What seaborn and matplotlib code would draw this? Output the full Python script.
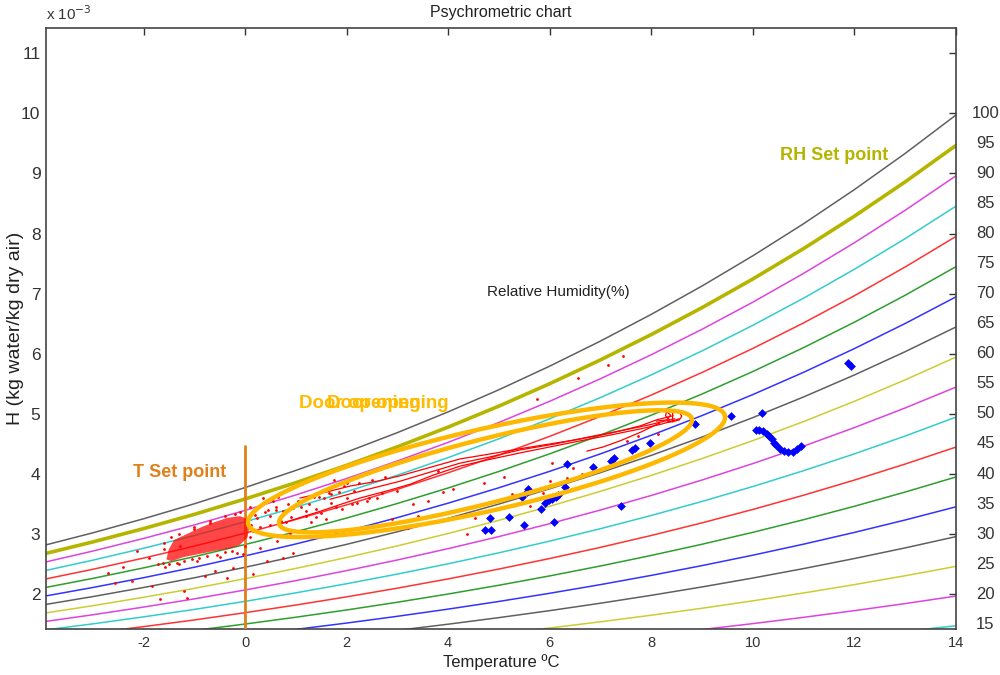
import numpy as np
import pandas as pd
import matplotlib
matplotlib.use('Agg')
import matplotlib.pyplot as plt
import seaborn as sns

# Saturation vapour pressure over water (kPa) at -4..14 degC
temps = [-4, -3, -2, -1, 0, 1, 2, 3, 4, 5, 6, 7, 8, 9, 10, 11, 12, 13, 14]
p_sat = [0.4547, 0.4898, 0.5275, 0.5677, 0.6112, 0.6571, 0.7060, 0.7581, 0.8135,
         0.8725, 0.9353, 1.0020, 1.0729, 1.1481, 1.2280, 1.3128, 1.4028, 1.4981, 1.5990]
P_ATM = 101.325
rh_levels = [15, 20, 25, 30, 35, 40, 45, 50, 55, 60, 65, 70, 75, 80, 85, 90, 95, 100]
rh_setpoint = 95
t_setpoint = 0

# MATLAB-like colour cycle, starting at 15 %
cycle = ['#33cccc', '#dd44dd', '#cccc33', '#606060', '#3333ff', '#2e9e2e', '#ff3333']

# Measured points (blue)
blue_x = [9.56, 8.86, 7.97, 7.68, 7.62, 7.26, 7.2, 6.86, 6.33, 6.3, 5.58, 5.55, 5.9, 5.98,
          6.05, 6.12, 6.17, 5.83, 5.2, 4.83, 6.09, 5.49, 4.72, 4.84, 7.41, 5.45,
          10.17, 10.06, 10.13, 10.2, 10.27, 10.32, 10.37, 10.41, 10.46, 10.53, 10.61,
          10.69, 10.79, 10.87, 10.94, 11.87, 11.93]
blue_y = [4.97, 4.83, 4.52, 4.43, 4.4, 4.26, 4.22, 4.12, 4.16, 3.79, 3.75, 3.7, 3.52, 3.56,
          3.59, 3.62, 3.65, 3.41, 3.29, 3.26, 3.2, 3.15, 3.07, 3.07, 3.46, 3.62,
          5.02, 4.73, 4.73, 4.71, 4.67, 4.63, 4.58, 4.52, 4.48, 4.42, 4.38,
          4.36, 4.36, 4.41, 4.46, 5.85, 5.79]

# Dense cluster of red samples around the T set point (outline)
cluster_x = [-1.55, -1.5, -1.4, -1.1, -0.85, -0.6, -0.35, -0.1, 0.05, 0.08, 0.05, -0.1,
             -0.3, -0.6, -0.9, -1.2, -1.45]
cluster_y = [2.58, 2.75, 2.9, 3.02, 3.12, 3.2, 3.27, 3.3, 3.25, 3.1, 2.95, 2.82,
             2.76, 2.72, 2.67, 2.62, 2.55]

# Scattered red samples
red_x = [-2.13, -2.56, -1.67, -1.14, -2.22, -1.83, -0.79, -0.24, 0.16, 0.43, 0.75, 0.94,
         -1.71, -0.35, -1.28, -0.04, 0.3, 0.63, 0.89, 0.16, 0.35, 0.55, 0.24, 0.49, 0.75,
         0.94, -2.4, -1.9, -2.7, -1.6, -1.58, -1.3, -0.95, -0.5, -0.15, 0.1, 0.12, -1.45,
         -1.0, -0.7, -0.2, 1.1, 1.25, 1.4, 1.55, 1.7, 1.85, 2.0, 2.15, 1.2, 1.5, 1.8, 2.1,
         1.05, 1.35, 1.65, 1.95, 2.25, 2.5, 2.75, 1.3, 1.6, 0.8, 0.6, 0.45, 2.4, 2.0, 1.75,
         7.44, 7.15, 6.56, 5.75, 6.04, 6.46, 6.63, 6.34, 6.0, 5.87, 5.61, 5.26, 5.41, 4.96,
         4.53, 4.37, 7.74, 8.13, 7.52, 3.3, 3.6, 3.9, 4.1, 2.9, 3.4, 5.1, 4.7, 3.2, 2.6,
         -0.6, -1.2, 1.0, 2.6, 3.8,
         -1.62, -1.5, -1.35, -1.2, -1.05, -0.9, -0.75, -0.55, -0.4, -0.25, 0.0, 0.15,
         -1.6, -1.3, -1.0, -0.7, -0.4, -0.1, 0.2, 0.4, 0.6, 0.85, 1.15, 1.45, 1.7,
         0.3, 0.5, 0.7, 0.9, 1.2, 1.4, 1.9, 2.2, 2.45, 2.7, 3.0, 0.1, 0.35, 0.65]
red_y = [2.72, 2.18, 1.92, 1.93, 2.22, 2.13, 2.3, 2.43, 2.33, 2.55, 2.6, 2.68,
         2.5, 2.27, 2.8, 2.67, 2.77, 2.88, 3.02, 3.38, 3.5, 3.55, 3.27, 3.3, 3.38,
         3.43, 2.45, 2.6, 2.35, 2.75, 2.45, 2.5, 2.55, 2.62, 2.68, 2.95, 3.15, 2.95,
         3.08, 3.18, 3.33, 3.45, 3.5, 3.42, 3.6, 3.52, 3.7, 3.6, 3.72, 3.3, 3.35, 3.45,
         3.5, 3.55, 3.62, 3.68, 3.8, 3.85, 3.9, 3.95, 3.2, 3.25, 3.2, 3.45, 3.4, 3.55, 3.85,
         3.9, 5.97, 5.82, 5.6, 5.25, 4.18, 4.1, 4.0, 3.93, 3.88, 3.68, 3.47, 3.67, 3.5,
         3.42, 3.27, 3.0, 4.63, 4.67, 4.55, 3.5, 3.55, 3.7, 3.75, 3.25, 3.3, 3.95, 3.85,
         3.1, 3.05, 2.38, 2.05, 2.95, 3.6, 4.05,
         2.52, 2.5, 2.52, 2.55, 2.58, 2.6, 2.64, 2.66, 2.7, 2.72, 2.8, 3.05,
         2.86, 3.0, 3.12, 3.22, 3.3, 3.36, 3.32, 3.36, 3.4, 3.5, 3.55, 3.62, 3.66,
         3.12, 3.15, 3.22, 3.28, 3.38, 3.28, 3.42, 3.52, 3.6, 3.68, 3.72, 3.45, 3.6, 3.62]

# Red trajectories (door opening events)
traj1_x = [1.08, 1.6, 2.07, 2.6, 3.05, 3.6, 4.23, 4.8, 5.41, 6.0, 6.59, 7.2, 7.78, 8.1, 8.43]
traj1_y = [3.6, 3.7, 3.8, 3.88, 3.97, 4.1, 4.25, 4.33, 4.42, 4.5, 4.58, 4.68, 4.8, 4.9, 4.97]
traj2_x = [0.69, 1.1, 1.48, 1.9, 2.26, 2.8, 3.25, 3.7, 4.23, 4.8, 5.41, 6.0, 6.59, 7.2, 7.78,
           8.2, 8.56]
traj2_y = [3.17, 3.28, 3.38, 3.5, 3.6, 3.72, 3.83, 3.98, 4.13, 4.24, 4.35, 4.45, 4.55, 4.65,
           4.75, 4.83, 4.92]
traj3_x = [1.67, 2.3, 3.05, 3.6, 4.23, 4.8, 5.41, 6.1, 6.79, 7.4, 7.97, 8.46]
traj3_y = [3.58, 3.72, 3.88, 4.02, 4.18, 4.28, 4.4, 4.5, 4.62, 4.72, 4.82, 4.92]
traj4_x = [6.73, 7.05, 7.38, 7.8, 8.17]
traj4_y = [4.38, 4.45, 4.55, 4.7, 4.85]
loop_x = [8.1, 8.3, 8.38, 8.3, 8.28, 8.36, 8.32, 8.42, 8.55, 8.6, 8.55, 8.42, 8.42]
loop_y = [4.88, 4.9, 4.98, 5.04, 4.97, 4.9, 4.86, 4.87, 4.9, 4.96, 5.03, 5.04, 4.87]

# Door-opening ellipses: major-axis tips (data) and half width (pixels)
outer_tips = [(0.06, 3.17), (9.45, 4.97)]
inner_tips = [(0.67, 3.17), (8.8, 4.92)]
outer_half_w = 41
inner_half_w = 32

# Build the RH curves table (H in 1e-3 kg/kg)
rows = []
for rh in rh_levels:
    for t, ps in zip(temps, p_sat):
        pw = rh / 100 * ps
        rows.append({'T': t, 'H': 622 * pw / (P_ATM - pw), 'RH': rh})
curves = pd.DataFrame(rows)
palette = {rh: cycle[i % len(cycle)] for i, rh in enumerate(rh_levels)}
palette[rh_setpoint] = '#b5b500'
widths = {rh: 1.1 for rh in rh_levels}
widths[rh_setpoint] = 2.6

sns.set_style('white')
plt.rcParams['font.family'] = ['Liberation Sans', 'DejaVu Sans']
plt.rcParams['axes.unicode_minus'] = False

fig = plt.figure(figsize=(10, 6.75), dpi=100)
ax = fig.add_axes([0.046, 0.068, 0.91, 0.8905])
ax.set_xlim(-3.92, 14)
ax.set_ylim(1.42, 11.42)

sns.lineplot(data=curves, x='T', y='H', hue='RH', size='RH', palette=palette, sizes=widths,
             estimator=None, legend=False, ax=ax, zorder=2)

# T set point line
ax.plot([t_setpoint, t_setpoint], [1.42, 4.47], color='#e0801a', lw=2, zorder=3)

# red samples
ax.fill(cluster_x, cluster_y, color='#ff0000', alpha=0.72, lw=0, zorder=4)
sns.scatterplot(x=red_x, y=red_y, color='#ff0000', s=4, linewidth=0, ax=ax, zorder=4)
for tx, ty in [(traj1_x, traj1_y), (traj2_x, traj2_y), (traj3_x, traj3_y),
               (traj4_x, traj4_y), (loop_x, loop_y)]:
    ax.plot(tx, ty, color='#ff0000', lw=0.9, zorder=4)

# blue measured points
sns.scatterplot(x=blue_x, y=blue_y, color='#0000ff', marker='D', s=20, linewidth=0,
                ax=ax, zorder=5)

# ellipses drawn in pixel space
fig.canvas.draw()
to_px = ax.transData
to_data = ax.transData.inverted()
theta = np.linspace(0, 2 * np.pi, 300)
for tips, hw in [(outer_tips, outer_half_w), (inner_tips, inner_half_w)]:
    p0 = to_px.transform(tips[0])
    p1 = to_px.transform(tips[1])
    c = (p0 + p1) / 2
    d = p1 - p0
    a = np.hypot(*d) / 2
    u = d / (2 * a)
    v = np.array([-u[1], u[0]])
    pts = c + np.outer(a * np.cos(theta), u) + np.outer(hw * np.sin(theta), v)
    dpts = to_data.transform(pts)
    ax.plot(dpts[:, 0], dpts[:, 1], color='#ffb800', lw=3.2, zorder=6)

# annotations
ax.text(-2.2, 4.02, 'T Set point', color='#e0801a', fontsize=13, fontweight='bold',
        va='center', ha='left')
ax.text(10.53, 9.3, 'RH Set point', color='#b5b500', fontsize=13, fontweight='bold',
        va='center', ha='left')
ax.text(1.06, 5.17, 'Door opening', color='#ffbb00', fontsize=13.5, fontweight='bold',
        va='center', ha='left', zorder=7)
ax.text(1.61, 5.17, 'Door opening', color='#ffbb00', fontsize=13.5, fontweight='bold',
        va='center', ha='left', zorder=7)
ax.text(4.76, 7.02, 'Relative Humidity(%)', color='#222222', fontsize=11,
        va='center', ha='left')
for rh in rh_levels:
    ax.text(14.58, rh / 10, str(rh), fontsize=12, color='#333333', ha='center',
            va='center', clip_on=False)

ax.set_xticks([-2, 0, 2, 4, 6, 8, 10, 12, 14])
ax.set_yticks(list(range(2, 12)))
ax.tick_params(direction='in', top=True, right=True, length=5, width=1,
               color='#333333', labelcolor='#333333')
ax.tick_params(axis='x', labelsize=10.5, pad=5)
ax.tick_params(axis='y', labelsize=12.5, pad=4)
for sp in ax.spines.values():
    sp.set_color('#444444')
    sp.set_linewidth(1.2)

ax.set_title('Psychrometric chart', fontsize=11.5, color='#222222', pad=8)
ax.set_xlabel('Temperature ºC', fontsize=12, color='#222222', labelpad=3)
ax.set_ylabel('H (kg water/kg dry air)', fontsize=14, color='#222222', labelpad=-2)
ax.text(0, 1.008, 'x 10$^{-3}$', transform=ax.transAxes, fontsize=11, color='#333333',
        ha='left', va='bottom')

fig.savefig('out.png', dpi=100)
